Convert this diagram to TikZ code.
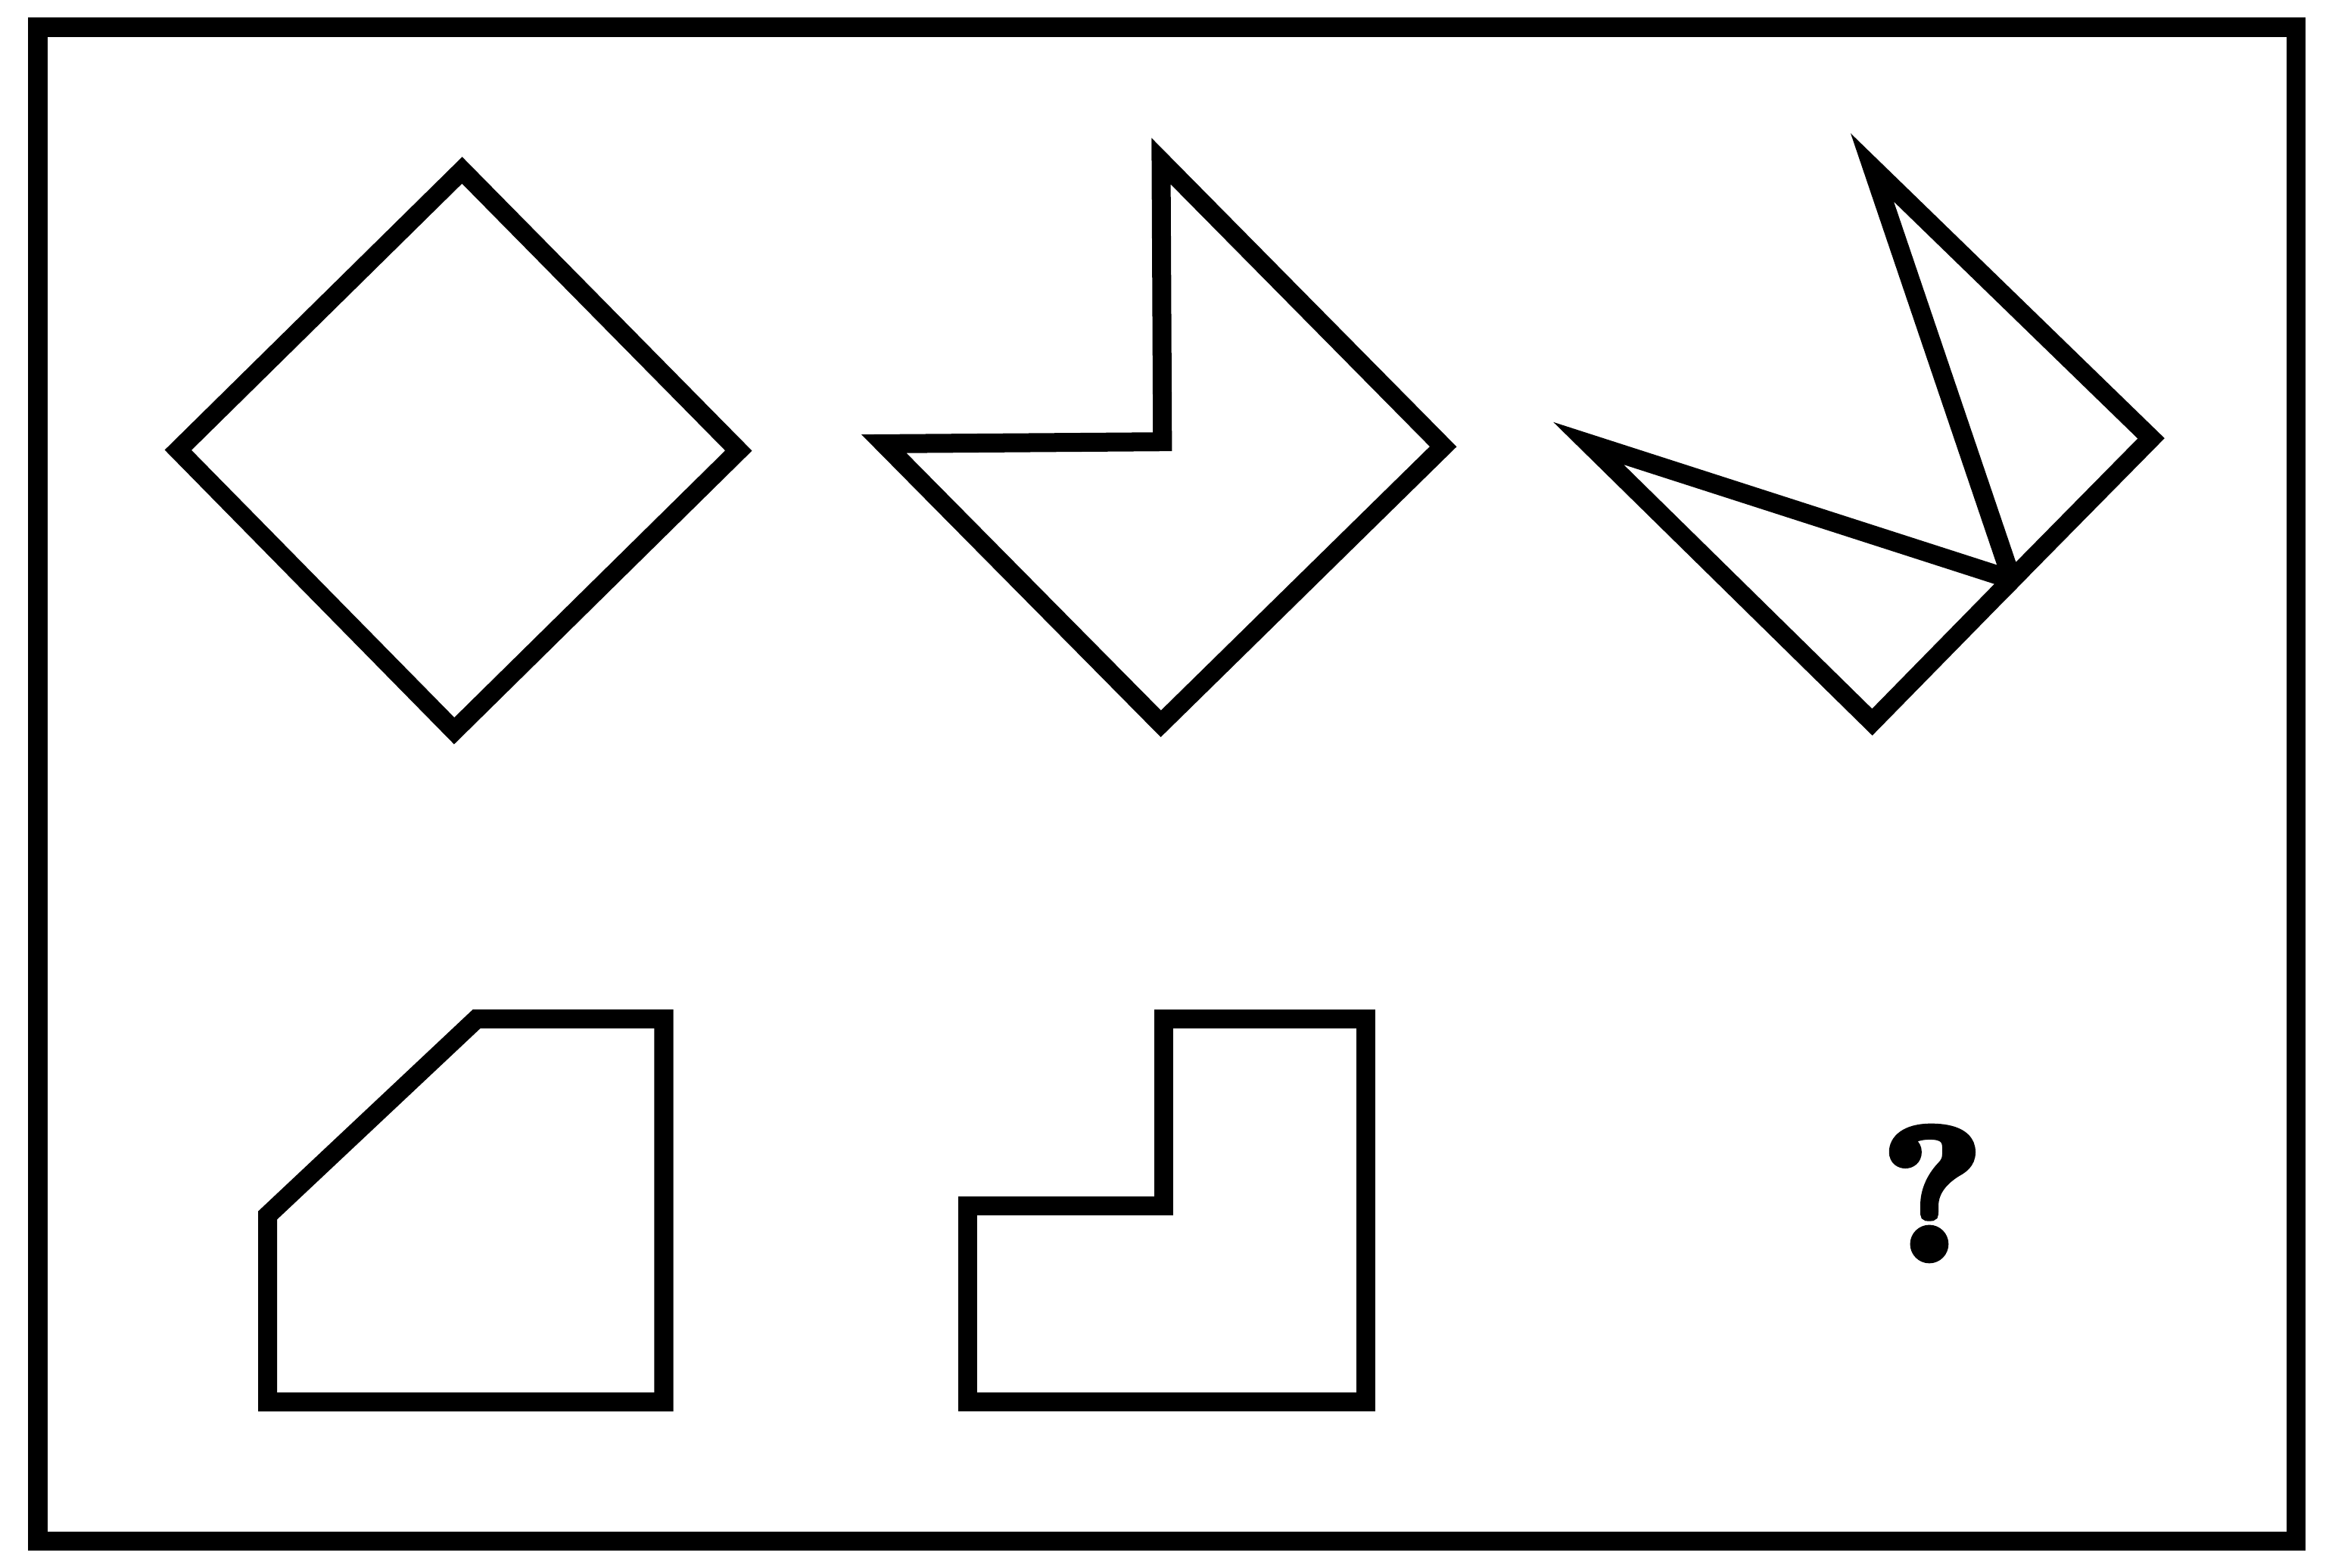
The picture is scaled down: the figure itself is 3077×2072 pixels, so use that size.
\documentclass[tikz,border=0pt]{standalone}
\usepackage{fontspec}
\newfontfamily\qfont{lmroman10-bold.otf}[FakeBold=5]
\begin{document}
\begin{tikzpicture}[x=0.01cm,y=-0.01cm,line join=miter,
  frame/.style={draw=black,line width=0.25cm},
  shapeline/.style={draw=black,line width=0.25cm}]
\useasboundingbox (0,0) rectangle (3077,2072);
\fill[white] (0,0) rectangle (3077,2072);
% frame
\draw[frame] (50,36) rectangle (3033,2036);
% shape 1: square
\coordinate (aT) at (610.5,225);
\coordinate (aR) at (975.8,595.5);
\coordinate (aB) at (600.1,965.8);
\coordinate (aL) at (235.3,594.7);
\draw[shapeline] (aT) -- (aR) -- (aB) -- (aL) -- cycle;
% shape 2
\coordinate (bT) at (1534,212.9);
\coordinate (bR) at (1906.7,590.2);
\coordinate (bB) at (1533.7,956.4);
\coordinate (bL) at (1167.8,586.4);
\coordinate (bC) at (1535.8,583.7);
\draw[shapeline] (bT) -- (bR) -- (bB) -- (bL) -- (bC) -- cycle;
% shape 3
\coordinate (cT) at (2473.5,221.3);
\coordinate (cR) at (2842,579.3);
\coordinate (cB) at (2473.5,954.2);
\coordinate (cL) at (2098.7,585.9);
\coordinate (cJ) at (2658,766);
\draw[shapeline] (cL) -- (cB) -- (cJ) -- cycle;
\draw[shapeline] (cT) -- (cR) -- (cJ) -- cycle;
% shape 4
\coordinate (dA) at (353.7,1605.9);
\coordinate (dB) at (629.7,1346.4);
\coordinate (dC) at (877,1346.4);
\coordinate (dD) at (877,1852.6);
\coordinate (dE) at (353.7,1852.6);
\draw[shapeline] (dA) -- (dB) -- (dC) -- (dD) -- (dE) -- cycle;
% shape 5
\coordinate (eA) at (1278.6,1593.2);
\coordinate (eB) at (1537.5,1593.2);
\coordinate (eC) at (1537.5,1346.4);
\coordinate (eD) at (1804.2,1346.4);
\coordinate (eE) at (1804.2,1852.6);
\coordinate (eF) at (1278.6,1852.6);
\draw[shapeline] (eA) -- (eB) -- (eC) -- (eD) -- (eE) -- (eF) -- cycle;
% question mark
\node[inner sep=0pt,font=\qfont\fontsize{70}{76}\selectfont] (q) at (2553,1577) {?};
\end{tikzpicture}
\end{document}
